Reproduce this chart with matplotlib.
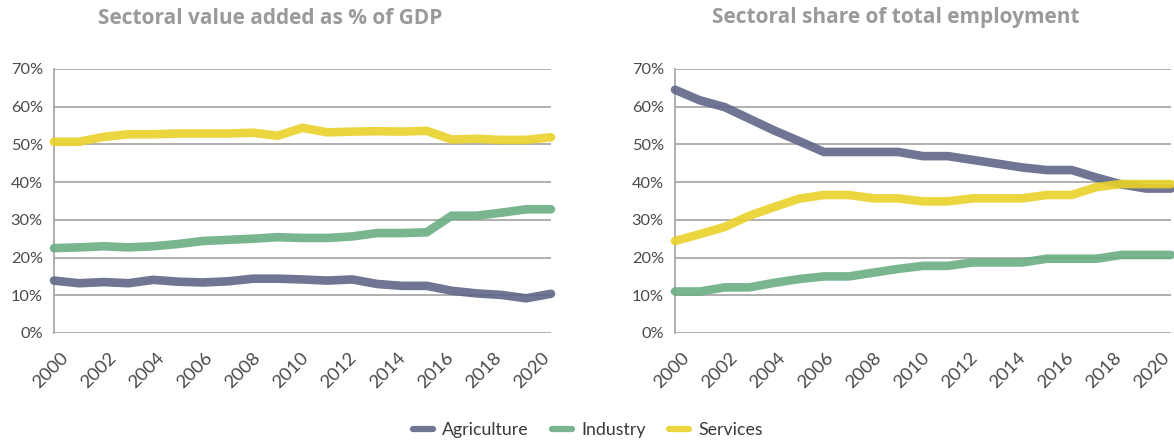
import matplotlib
matplotlib.use("Agg")
import matplotlib.pyplot as plt
from matplotlib.ticker import FuncFormatter, MultipleLocator
from matplotlib.lines import Line2D
from matplotlib.transforms import ScaledTranslation

plt.rcParams['font.family'] = ['Lato', 'DejaVu Sans']

years = list(range(2000, 2021))
year_ticks = list(range(2000, 2021, 2))
sectors = ["Agriculture", "Industry", "Services"]
colors = {"Agriculture": "#5f6687", "Industry": "#6aae84", "Services": "#ead22a"}

# Sectoral value added, % of GDP
gdp_agriculture = [13.9, 13.2, 13.5, 13.2, 14.1, 13.6, 13.4, 13.7, 14.4, 14.4, 14.2,
                   13.9, 14.2, 13.0, 12.5, 12.5, 11.2, 10.5, 10.1, 9.2, 10.4]
gdp_industry = [22.5, 22.7, 23.0, 22.7, 23.0, 23.6, 24.4, 24.7, 25.0, 25.4, 25.2,
                25.2, 25.6, 26.5, 26.5, 26.7, 31.1, 31.1, 31.9, 32.8, 32.8]
gdp_services = [50.7, 50.7, 52.0, 52.7, 52.7, 52.9, 52.9, 52.9, 53.1, 52.3, 54.4,
                53.2, 53.4, 53.5, 53.4, 53.6, 51.3, 51.5, 51.2, 51.2, 51.9]

# Sectoral share of total employment, %
emp_agriculture = [64.5, 61.7, 59.9, 56.8, 53.7, 50.9, 48.0, 48.0, 48.0, 48.0, 46.9,
                   46.9, 45.9, 44.9, 43.9, 43.2, 43.2, 41.2, 39.4, 38.3, 38.3]
emp_industry = [11.0, 11.0, 12.1, 12.1, 13.3, 14.3, 15.0, 15.0, 16.0, 17.0, 17.8,
                17.8, 18.7, 18.7, 18.7, 19.7, 19.7, 19.7, 20.7, 20.7, 20.7]
emp_services = [24.4, 26.2, 28.1, 31.1, 33.4, 35.6, 36.6, 36.6, 35.7, 35.7, 34.9,
                34.9, 35.7, 35.7, 35.7, 36.6, 36.6, 38.7, 39.5, 39.5, 39.5]

panels = [
    ("Sectoral value added as % of GDP",
     {"Agriculture": gdp_agriculture, "Industry": gdp_industry, "Services": gdp_services}),
    ("Sectoral share of total employment",
     {"Agriculture": emp_agriculture, "Industry": emp_industry, "Services": emp_services}),
]

W, H = 1174, 443
fig = plt.figure(figsize=(W / 100, H / 100), dpi=100)

axes_rects = [
    [54 / W, 1 - 333 / H, (551 - 54) / W, (333 - 69) / H],
    [675 / W, 1 - 333 / H, (1171 - 675) / W, (333 - 69) / H],
]
title_x = [270 / W, 896 / W]

grid_color = "#a9a9a9"
tick_color = "#4a4a4a"

for rect, tx, (title, series) in zip(axes_rects, title_x, panels):
    ax = fig.add_axes(rect)
    for name in sectors:
        ax.plot(years, series[name], color=colors[name], lw=6.2, alpha=0.9,
                solid_capstyle="round", solid_joinstyle="round",
                clip_on=False, zorder=3)
    ax.set_xlim(2000, 2020)
    ax.set_ylim(0, 70)
    ax.yaxis.set_major_locator(MultipleLocator(10))
    ax.set_xticks(year_ticks)
    ax.yaxis.set_major_formatter(FuncFormatter(lambda v, p: f"{v:.0f}%"))
    ax.set_xticklabels([str(y) for y in year_ticks])
    ax.grid(axis="y", color=grid_color, lw=1.3, zorder=1)
    ax.set_axisbelow(True)
    for s in ("top", "right", "bottom"):
        ax.spines[s].set_visible(False)
    ax.spines["left"].set_color(grid_color)
    ax.spines["left"].set_linewidth(1.3)
    ax.tick_params(axis="y", length=0, colors=tick_color, labelsize=11.8, pad=8)
    ax.tick_params(axis="x", length=0, colors=tick_color, labelsize=13.3, pad=12)
    # rotated year labels, anchored at their top-right corner and nudged sideways
    n = len(year_ticks) - 1
    for i, tick in enumerate(ax.xaxis.get_major_ticks()):
        lbl = tick.label1
        lbl.set_rotation(45)
        lbl.set_rotation_mode("anchor")
        lbl.set_ha("right")
        lbl.set_va("top")
        dx_px = 6 - 16 * i / n
        lbl.set_transform(lbl.get_transform() +
                          ScaledTranslation(dx_px / 100, 0, fig.dpi_scale_trans))
    fig.text(tx, 1 - 18 / H, title, ha="center", va="center",
             fontsize=15, fontweight="bold", color="#9a9a9a",
             family=["Open Sans", "DejaVu Sans"])

handles = [Line2D([0], [0], color=colors[n], lw=4.5, solid_capstyle="round", alpha=0.9)
           for n in sectors]
fig.legend(handles, sectors, loc="center", bbox_to_anchor=(588 / W, 1 - 430 / H),
           ncol=3, frameon=False, fontsize=12.8, handlelength=1.1,
           columnspacing=1.3, handletextpad=0.55, labelcolor="#3a3a3a")

fig.savefig("out.png", dpi=100)
